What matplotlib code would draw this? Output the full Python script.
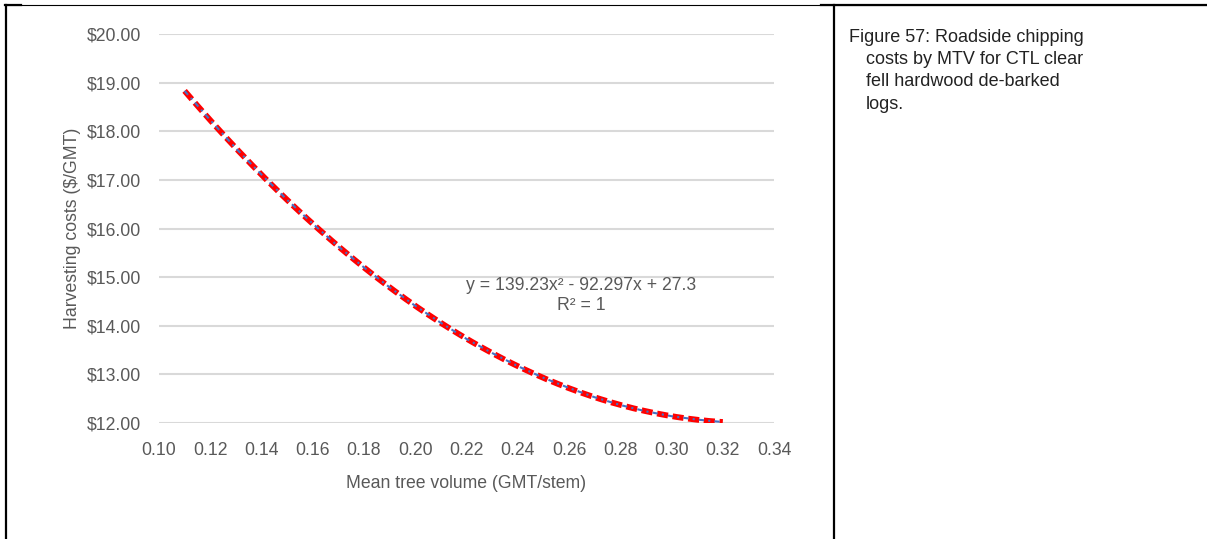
import numpy as np
import matplotlib
matplotlib.use('Agg')
import matplotlib.pyplot as plt
from matplotlib.lines import Line2D

# Mean tree volume (GMT/stem) and harvesting cost ($/GMT)
mtv = [0.11, 0.12, 0.13, 0.14, 0.15, 0.16, 0.17, 0.18, 0.19, 0.20, 0.21,
       0.22, 0.23, 0.24, 0.25, 0.26, 0.27, 0.28, 0.29, 0.30, 0.31, 0.32]
cost = [18.83, 18.23, 17.65, 17.11, 16.59, 16.10, 15.63, 15.20, 14.79, 14.41, 14.06,
        13.73, 13.44, 13.17, 12.93, 12.72, 12.53, 12.37, 12.24, 12.14, 12.07, 12.02]
y_ticks = [12, 13, 14, 15, 16, 17, 18, 19, 20]
x_ticks = [0.10, 0.12, 0.14, 0.16, 0.18, 0.20, 0.22, 0.24, 0.26, 0.28, 0.30, 0.32, 0.34]
equation = 'y = 139.23x² - 92.297x + 27.3\nR² = 1'
caption = ['Figure 57: Roadside chipping', 'costs by MTV for CTL clear',
           'fell hardwood de-barked', 'logs.']

plt.rcParams['font.family'] = ['Liberation Sans', 'DejaVu Sans']
grey = '#595959'
fs = 12.7

fig = plt.figure(figsize=(12.07, 5.39), dpi=100)
ax = fig.add_axes([0.1317, 0.2152, 0.5096, 0.7217])

# polynomial trendline fitted to the points
coef = np.polyfit(mtv, cost, 2)
xs = np.linspace(min(mtv), max(mtv), 200)
ax.plot(xs, np.polyval(coef, xs), color='#ff0000', linewidth=4.2,
        linestyle=(0, (1.9, 0.8)), zorder=3)
ax.plot(mtv, cost, color='#4472c4', linewidth=1.5,
        linestyle=(0, (2.5, 2, 1, 2)), zorder=4)

ax.set_xlim(0.10, 0.34)
ax.set_ylim(12, 20)
ax.set_xticks(x_ticks)
ax.set_xticklabels(['%.2f' % v for v in x_ticks])
ax.set_yticks(y_ticks)
ax.set_yticklabels(['$%.2f' % v for v in y_ticks])
ax.tick_params(length=0, labelsize=fs, colors=grey)
ax.tick_params(axis='x', pad=14)
ax.tick_params(axis='y', pad=13)
ax.grid(axis='y', color='#d9d9d9', linewidth=1.5)
ax.set_axisbelow(True)
for s in ax.spines.values():
    s.set_visible(False)
ax.set_xlabel('Mean tree volume (GMT/stem)', fontsize=fs, color=grey, labelpad=11)
ax.set_ylabel('Harvesting costs ($/GMT)', fontsize=fs, color=grey, labelpad=4)

ax.text(0.2647, 14.62, equation, fontsize=fs, color=grey, ha='center', va='center',
        linespacing=1.2)

# table borders
fig.add_artist(Line2D([0.004, 1.0], [0.9907, 0.9907], color='black', linewidth=0.8))
fig.add_artist(Line2D([0.004, 0.017], [0.9907, 0.9907], color='black', linewidth=1.6))
fig.add_artist(Line2D([0.68, 1.0], [0.9907, 0.9907], color='black', linewidth=1.6))
fig.add_artist(Line2D([0.005, 0.005], [0.0, 0.9907], color='black', linewidth=1.6))
fig.add_artist(Line2D([0.691, 0.691], [0.0, 0.9907], color='black', linewidth=1.6))

# caption
y0 = 1 - 37 / 539
for i, line in enumerate(caption):
    x = 849 / 1207 if i == 0 else 866 / 1207
    fig.text(x, y0 - i * 22.5 / 539, line, fontsize=13, color='#222222', va='center')

fig.savefig('out.png', dpi=100)
